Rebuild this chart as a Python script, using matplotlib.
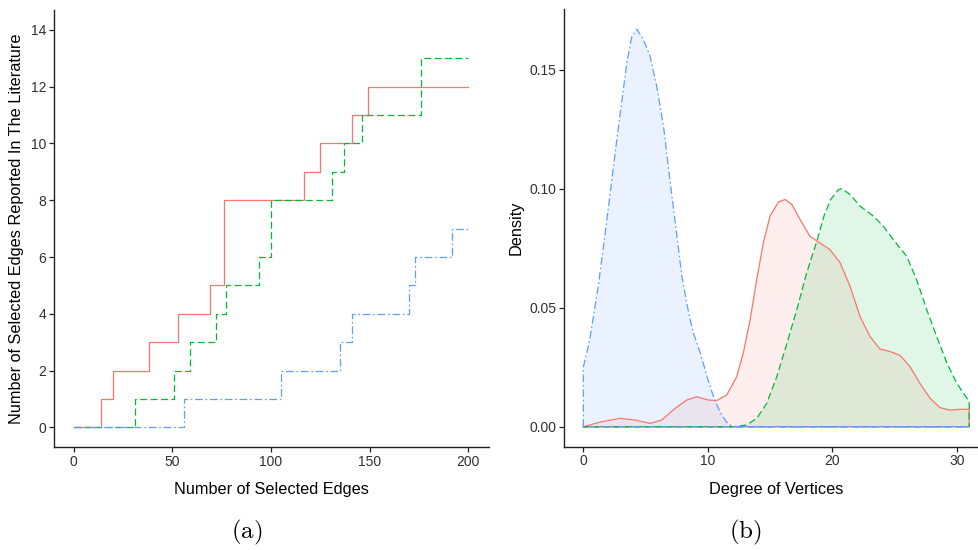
import matplotlib
matplotlib.use("Agg")
import matplotlib.pyplot as plt

plt.rcParams['font.family'] = ['Liberation Sans', 'DejaVu Sans']
plt.rcParams['mathtext.fontset'] = 'cm'
plt.rcParams['lines.scale_dashes'] = False

RED = '#F8766D'
GREEN = '#00BA38'
BLUE = '#619CFF'
TXT = '#303030'

# (a) cumulative counts, step positions
red_x = [0, 14, 20, 38, 53, 69, 76, 117, 125, 141, 149, 200]
red_y = [0, 1, 2, 3, 4, 5, 8, 9, 10, 11, 12, 12]
green_x = [0, 31, 51, 59, 72, 77, 94, 100, 131, 137, 146, 176, 200]
green_y = [0, 1, 2, 3, 4, 5, 6, 8, 9, 10, 11, 13, 13]
blue_x = [0, 56, 105, 135, 141, 170, 173, 192, 200]
blue_y = [0, 1, 2, 3, 4, 5, 6, 7, 7]

# (b) density curves
dblue_x = [0, 0, 0.5, 1.2, 1.75, 2.3, 2.7, 3.1, 3.5, 3.9, 4.3, 4.8, 5.35, 5.9,
           6.45, 6.95, 7.5, 7.9, 8.3, 8.8, 9.4, 10.0, 10.5, 11.0, 11.5, 12.0, 31]
dblue_y = [0, 0.025, 0.036, 0.059, 0.081, 0.104, 0.121, 0.137, 0.153, 0.164, 0.167,
           0.163, 0.156, 0.143, 0.126, 0.104, 0.081, 0.064, 0.052, 0.040, 0.031,
           0.020, 0.012, 0.006, 0.002, 0.0, 0.0]
dred_x = [0, 1.47, 2.95, 4.16, 5.37, 6.3, 7.37, 8.31, 9.11, 10.04, 10.72, 11.52,
          12.32, 12.85, 13.4, 13.93, 14.46, 15.0, 15.67, 16.2, 16.75, 17.41, 18.21,
          19.02, 19.82, 20.62, 21.43, 22.23, 23.03, 23.84, 24.64, 25.44, 26.24,
          27.03, 27.85, 28.65, 29.46, 30.26, 31]
dred_y = [0, 0.0021, 0.0035, 0.0028, 0.0014, 0.0028, 0.0077, 0.0112, 0.0126, 0.0112,
          0.011, 0.0133, 0.021, 0.0309, 0.0449, 0.0618, 0.0772, 0.0885, 0.0944,
          0.0955, 0.0934, 0.0871, 0.080, 0.0772, 0.0744, 0.069, 0.059, 0.0463,
          0.0379, 0.0326, 0.0316, 0.030, 0.0253, 0.0183, 0.012, 0.008, 0.007,
          0.0073, 0.0073]
dgreen_x = [0, 12.0, 13.12, 13.93, 14.73, 15.54, 16.36, 17.15, 17.94, 18.8, 19.33,
            19.87, 20.51, 20.76, 21.43, 22.23, 23.3, 24.11, 24.91, 25.98, 26.78,
            27.59, 28.39, 29.21, 30.0, 31]
dgreen_y = [0, 0, 0.0007, 0.0035, 0.0098, 0.021, 0.0351, 0.0492, 0.0646, 0.0786,
            0.0885, 0.0955, 0.0997, 0.100, 0.0976, 0.0927, 0.0885, 0.0842, 0.0786,
            0.0716, 0.0617, 0.0492, 0.0379, 0.0267, 0.0183, 0.0105]

dash_green = (0, (5, 2.5))
dash_blue = (0, (5.5, 2, 1.2, 2))


def style(ax):
    for s in ['top', 'right']:
        ax.spines[s].set_visible(False)
    for s in ['left', 'bottom']:
        ax.spines[s].set_linewidth(1.0)
        ax.spines[s].set_color('#222222')
    ax.tick_params(length=3.5, width=0.9, color='#222222', labelsize=10,
                   labelcolor=TXT, pad=2)


fig = plt.figure(figsize=(9.79, 5.5), dpi=100)

# left panel
ax1 = fig.add_axes([54 / 979, 102.7 / 550, 435.3 / 979, 437.3 / 550])
ax1.step(red_x, red_y, where='post', color=RED, lw=0.9)
ax1.step(green_x, green_y, where='post', color=GREEN, lw=0.9, linestyle=dash_green)
ax1.step(blue_x, blue_y, where='post', color=BLUE, lw=0.9, linestyle=dash_blue)
ax1.set_xlim(-10, 210.7)
ax1.set_ylim(-0.7, 14.7)
ax1.set_xticks([0, 50, 100, 150, 200])
ax1.set_yticks([0, 2, 4, 6, 8, 10, 12, 14])
style(ax1)
ax1.set_xlabel('Number of Selected Edges', fontsize=11.7, color='black')
ax1.set_ylabel('Number of Selected Edges Reported In The Literature', fontsize=11.7,
               color='black')
ax1.xaxis.set_label_coords(0.5, -0.08)
ax1.yaxis.set_label_coords(-0.07, 0.5)

# right panel (extends past the right edge like the original)
ax2 = fig.add_axes([564 / 979, 103.3 / 550, 424.5 / 979, 437.4 / 550])
curves = [(dred_x, dred_y, RED, '-'),
          (dgreen_x, dgreen_y, GREEN, dash_green),
          (dblue_x, dblue_y, BLUE, dash_blue)]
for xs, ys, col, ls in curves:
    px = list(xs) + [xs[-1], xs[0]]
    py = list(ys) + [0, 0]
    ax2.fill(px, py, facecolor=col, alpha=0.12, edgecolor='none')
for xs, ys, col, ls in curves:
    px = list(xs) + [xs[-1], xs[0]]
    py = list(ys) + [0, 0]
    ax2.plot(px, py, color=col, lw=0.9, linestyle=ls)
ax2.set_xlim(-1.55, 32.55)
ax2.set_ylim(-0.0084, 0.1754)
ax2.set_xticks([0, 10, 20, 30])
ax2.set_yticks([0.0, 0.05, 0.10, 0.15])
ax2.set_yticklabels(['0.00', '0.05', '0.10', '0.15'])
style(ax2)
ax2.set_xlabel('Degree of Vertices', fontsize=11.7, color='black')
ax2.set_ylabel('Density', fontsize=11.7, color='black')
ax2.xaxis.set_label_coords(0.5, -0.08)
ax2.yaxis.set_label_coords(-0.095, 0.5)

fig.text(246.5 / 979, 1 - 532 / 550, r'$\mathrm{(a)}$', fontsize=18,
         ha='center', va='center')
fig.text(745 / 979, 1 - 532 / 550, r'$\mathrm{(b)}$', fontsize=18,
         ha='center', va='center')

fig.savefig('out.png', dpi=100)
